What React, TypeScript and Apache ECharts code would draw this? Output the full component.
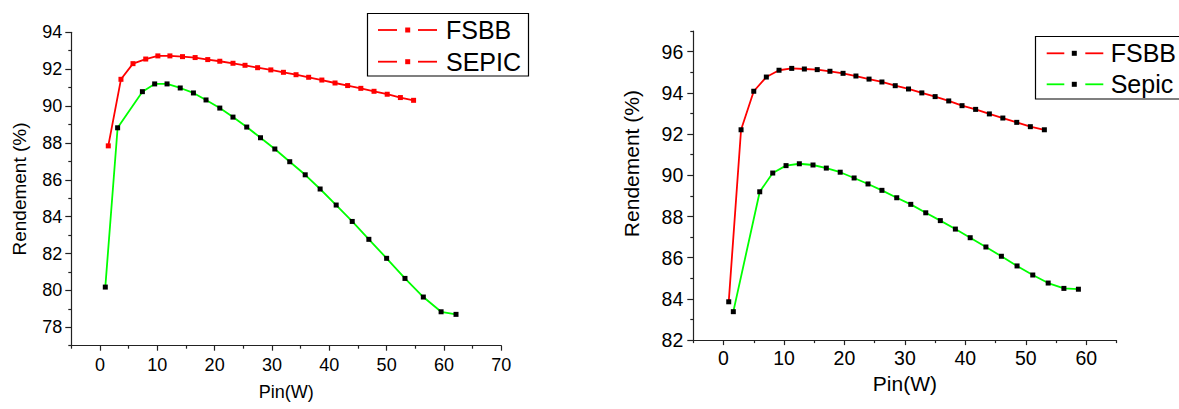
import React, { useEffect, useRef } from "react";
import * as echarts from "echarts";

// ---- Left chart data ----
const leftFsbbX = [1.45, 3.66, 5.76, 7.98, 10.1, 12.2, 14.4, 16.6, 18.8, 20.9, 23.2, 25.3, 27.5, 29.8, 32.0, 34.2, 36.4, 38.7, 41.0, 43.2, 45.5, 47.8, 50.1, 52.4, 54.7];
const leftFsbbY = [87.84, 91.45, 92.3, 92.55, 92.72, 92.72, 92.68, 92.63, 92.52, 92.43, 92.32, 92.21, 92.08, 91.96, 91.83, 91.7, 91.56, 91.41, 91.25, 91.11, 90.96, 90.8, 90.64, 90.46, 90.31];
const leftSepicX = [0.93, 3.08, 7.4, 9.54, 11.7, 14.0, 16.3, 18.5, 20.9, 23.2, 25.6, 28.0, 30.5, 33.1, 35.8, 38.4, 41.2, 44.0, 46.9, 50.0, 53.2, 56.4, 59.5, 62.1];
const leftSepicY = [80.18, 88.82, 90.78, 91.2, 91.2, 90.98, 90.71, 90.33, 89.89, 89.4, 88.86, 88.28, 87.67, 86.98, 86.27, 85.5, 84.63, 83.74, 82.77, 81.74, 80.65, 79.64, 78.84, 78.7];

// ---- Right chart data ----
const rightFsbbX = [0.86, 2.9, 5.0, 7.08, 9.18, 11.28, 13.37, 15.5, 17.6, 19.77, 21.9, 24.07, 26.2, 28.4, 30.6, 32.8, 35.0, 37.25, 39.45, 41.7, 43.97, 46.2, 48.5, 50.75, 53.07];
const rightFsbbY = [83.86, 92.21, 94.08, 94.77, 95.1, 95.19, 95.16, 95.13, 95.05, 94.95, 94.82, 94.67, 94.53, 94.35, 94.19, 94.0, 93.82, 93.61, 93.38, 93.2, 92.98, 92.78, 92.57, 92.36, 92.21];
const rightSepicX = [1.62, 5.99, 8.14, 10.34, 12.54, 14.8, 17.0, 19.3, 21.6, 23.9, 26.2, 28.65, 30.97, 33.45, 35.86, 38.35, 40.8, 43.4, 45.96, 48.55, 51.15, 53.7, 56.3, 58.7];
const rightSepicY = [83.38, 89.2, 90.11, 90.47, 90.56, 90.5, 90.35, 90.15, 89.87, 89.58, 89.27, 88.91, 88.59, 88.18, 87.8, 87.39, 86.97, 86.52, 86.07, 85.6, 85.16, 84.77, 84.51, 84.47];

// ---- Ticks ----
const leftXMajor = [0, 10, 20, 30, 40, 50, 60, 70];
const leftXMinor = [-5, 5, 15, 25, 35, 45, 55, 65];
const leftYMajor = [78, 80, 82, 84, 86, 88, 90, 92, 94];
const leftYMinor = [77, 79, 81, 83, 85, 87, 89, 91, 93];
const rightXMajor = [0, 10, 20, 30, 40, 50, 60];
const rightXMinor = [-5, 5, 15, 25, 35, 45, 55, 65];
const rightYMajor = [82, 84, 86, 88, 90, 92, 94, 96];
const rightYMinor = [83, 85, 87, 89, 91, 93, 95, 97];

const leftNames = ["FSBB", "SEPIC"];
const rightNames = ["FSBB", "Sepic"];
const xTitle = "Pin(W)";
const yTitle = "Rendement (%)";

const FONT = "'Liberation Sans', Arial, sans-serif";
const RED = "#ff0000";
const GREEN = "#00ff00";
const BLACK = "#000000";
const AXIS = "#222222";

const zip = (xs: number[], ys: number[]) => xs.map((x, i) => [x, ys[i]]);

function mainX(grid: number, min: number, max: number, major: number[], fs: number, labelMargin: number, nameGap: number, nameFs: number) {
  return {
    type: "value", gridIndex: grid, min, max, position: "bottom",
    name: xTitle, nameLocation: "middle", nameGap,
    nameTextStyle: { color: BLACK, fontSize: nameFs, fontFamily: FONT },
    axisLine: { show: true, onZero: false, lineStyle: { color: AXIS, width: 1.2 } },
    axisTick: { show: true, length: 5, customValues: major, lineStyle: { color: AXIS, width: 1.2 } },
    axisLabel: { show: true, customValues: major, color: BLACK, fontSize: fs, fontFamily: FONT, margin: labelMargin },
    splitLine: { show: false },
  };
}
function minorX(grid: number, min: number, max: number, minor: number[]) {
  return {
    type: "value", gridIndex: grid, min, max, position: "bottom",
    axisLine: { show: false, onZero: false },
    axisTick: { show: true, length: 3, customValues: minor, lineStyle: { color: AXIS, width: 1.2 } },
    axisLabel: { show: false },
    splitLine: { show: false },
  };
}
function mainY(grid: number, min: number, max: number, major: number[], fs: number, labelMargin: number, nameGap: number, nameFs: number, pad: number[]) {
  return {
    type: "value", gridIndex: grid, min, max, position: "left",
    name: yTitle, nameLocation: "middle", nameGap, nameRotate: 90,
    nameTextStyle: { color: BLACK, fontSize: nameFs, fontFamily: FONT, padding: pad },
    axisLine: { show: true, onZero: false, lineStyle: { color: AXIS, width: 1.2 } },
    axisTick: { show: true, length: 6, customValues: major, lineStyle: { color: AXIS, width: 1.2 } },
    axisLabel: { show: true, customValues: major, color: BLACK, fontSize: fs, fontFamily: FONT, margin: labelMargin },
    splitLine: { show: false },
  };
}
function minorY(grid: number, min: number, max: number, minor: number[]) {
  return {
    type: "value", gridIndex: grid, min, max, position: "left",
    axisLine: { show: false, onZero: false },
    axisTick: { show: true, length: 3, customValues: minor, lineStyle: { color: AXIS, width: 1.2 } },
    axisLabel: { show: false },
    splitLine: { show: false },
  };
}
function lineSeries(name: string, data: number[][], xi: number, yi: number, lineColor: string, markColor: string) {
  return {
    type: "line", name, data, xAxisIndex: xi, yAxisIndex: yi,
    symbol: "rect", symbolSize: 5, showSymbol: true,
    lineStyle: { color: lineColor, width: 1.8 },
    itemStyle: { color: markColor, borderWidth: 0 },
    emphasis: { disabled: true },
    z: 3,
  };
}

function legendItems(x0: number, y: number, lineColor: string, markColor: string, label: string, seg: number[]) {
  // seg: [dash1 start, dash1 end, marker centre, dash2 start, dash2 end, text x]
  return [
    { type: "line", z: 101, shape: { x1: seg[0], y1: y, x2: seg[1], y2: y }, style: { stroke: lineColor, lineWidth: 1.8 } },
    { type: "rect", z: 102, shape: { x: seg[2] - 2.5, y: y - 2.5, width: 5, height: 5 }, style: { fill: markColor } },
    { type: "line", z: 101, shape: { x1: seg[3], y1: y, x2: seg[4], y2: y }, style: { stroke: lineColor, lineWidth: 1.8 } },
    { type: "text", z: 102, x: seg[5], y, style: { text: label, fontSize: 25, fontFamily: FONT, fill: BLACK, verticalAlign: "middle", align: "left" } },
  ];
}

export default function App() {
  const ref = useRef<HTMLDivElement>(null);
  useEffect(() => {
    document.body.style.margin = "0";
    if (!ref.current) return;
    const chart = echarts.init(ref.current, null, { renderer: "svg" });
    const lSeg = [378, 397, 407.7, 418, 437, 446];
    const rSeg = [1046.7, 1064.3, 1074.3, 1085.3, 1103.3, 1110.7];
    chart.setOption({
      animation: false,
      backgroundColor: "#ffffff",
      grid: [
        { left: 71.3, top: 32.3, width: 430, height: 313.4, containLabel: false },
        { left: 693.3, top: 31.1, width: 423.2, height: 309, containLabel: false },
      ],
      xAxis: [
        mainX(0, -5, 70, leftXMajor, 18, 10, 37, 18),
        minorX(0, -5, 70, leftXMinor),
        mainX(1, -5, 65, rightXMajor, 19.5, 8, 33, 21),
        minorX(1, -5, 65, rightXMinor),
      ],
      yAxis: [
        mainY(0, 77, 94, leftYMajor, 18, 9, 42, 19, [0, 0, 0, 0]),
        minorY(0, 77, 94, leftYMinor),
        mainY(1, 82, 97, rightYMajor, 19.5, 10, 51, 21, [0, 0, 0, 44]),
        minorY(1, 82, 97, rightYMinor),
      ],
      series: [
        lineSeries(leftNames[0], zip(leftFsbbX, leftFsbbY), 0, 0, RED, RED),
        lineSeries(leftNames[1], zip(leftSepicX, leftSepicY), 0, 0, GREEN, BLACK),
        lineSeries(rightNames[0], zip(rightFsbbX, rightFsbbY), 2, 2, RED, BLACK),
        lineSeries(rightNames[1], zip(rightSepicX, rightSepicY), 2, 2, GREEN, BLACK),
      ],
      graphic: [
        { type: "rect", z: 100, shape: { x: 367.5, y: 13.5, width: 161, height: 62.5 }, style: { fill: "#ffffff", stroke: BLACK, lineWidth: 1.2 } },
        ...legendItems(0, 30, RED, RED, leftNames[0], lSeg),
        ...legendItems(0, 61.7, RED, RED, leftNames[1], lSeg),
        { type: "rect", z: 100, shape: { x: 1035.5, y: 36.5, width: 160, height: 62.5 }, style: { fill: "#ffffff", stroke: BLACK, lineWidth: 1.2 } },
        ...legendItems(0, 53.3, RED, BLACK, rightNames[0], rSeg),
        ...legendItems(0, 84.3, GREEN, BLACK, rightNames[1], rSeg),
      ],
    });
    return () => chart.dispose();
  }, []);
  return <div ref={ref} style={{ width: 1179, height: 409 }} />;
}
